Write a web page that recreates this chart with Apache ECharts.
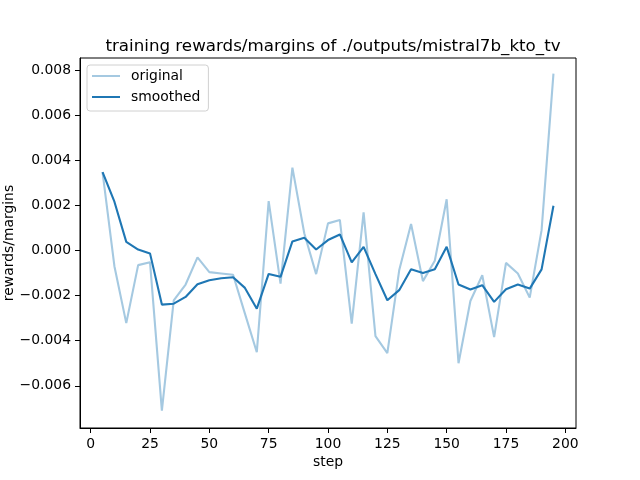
<!DOCTYPE html>
<html>
<head>
<meta charset="utf-8">
<script src="https://cdn.jsdelivr.net/npm/echarts@6/dist/echarts.min.js"></script>
<style>
  html, body { margin: 0; padding: 0; background: #fff; }
  #main { width: 640px; height: 480px; }
</style>
</head>
<body>
<div id="main"></div>
<script>
// steps logged every 5
var steps = [5, 10, 15, 20, 25, 30, 35, 40, 45, 50, 55, 60, 65, 70, 75, 80, 85, 90, 95, 100,
             105, 110, 115, 120, 125, 130, 135, 140, 145, 150, 155, 160, 165, 170, 175, 180, 185, 190, 195];

// values in units of 1e-3
var original = [3.47, -0.70, -3.22, -0.65, -0.52, -7.10, -2.21, -1.51, -0.31, -0.96,
                -1.02, -1.08, -2.80, -4.51, 2.19, -1.47, 3.67, 0.76, -1.05, 1.20,
                1.35, -3.24, 1.69, -3.80, -4.55, -0.88, 1.17, -1.36, -0.46, 2.27,
                -5.00, -2.24, -1.10, -3.84, -0.55, -1.02, -2.09, 0.90, 7.84];
var smoothed = [3.47, 2.16, 0.38, 0.04, -0.13, -2.40, -2.36, -2.06, -1.50, -1.32,
                -1.23, -1.19, -1.66, -2.58, -1.04, -1.17, 0.40, 0.56, 0.04, 0.46,
                0.71, -0.53, 0.16, -1.05, -2.21, -1.76, -0.83, -1.00, -0.83, 0.16,
                -1.51, -1.73, -1.54, -2.28, -1.72, -1.51, -1.69, -0.84, 1.98];

var xTicks = [0, 25, 50, 75, 100, 125, 150, 175, 200];
var yTicks = [-0.006, -0.004, -0.002, 0.000, 0.002, 0.004, 0.006, 0.008];

var FONT = 'DejaVu Sans';

function pairs(vals) {
    return steps.map(function (s, i) { return [s, vals[i] / 1000]; });
}

function fmtY(v) {
    var s = Math.abs(v).toFixed(3);
    return (v < -1e-9 ? '\u2212' : '') + s;
}

var myChart = echarts.init(document.getElementById('main'));

var option = {
    animation: false,
    backgroundColor: '#fff',
    textStyle: { fontFamily: FONT, color: '#000' },
    title: {
        text: 'training rewards/margins of ./outputs/mistral7b_kto_tv',
        left: 328,
        textAlign: 'center',
        top: 33,
        textStyle: { fontFamily: FONT, fontSize: 16.7, fontWeight: 'normal', color: '#000' }
    },
    grid: {
        left: 80, right: 64, top: 58, bottom: 52,
        containLabel: false,
        outerBoundsMode: 'none',
        show: true,
        borderColor: '#000',
        borderWidth: 1
    },
    legend: {
        orient: 'vertical',
        left: 87,
        top: 65,
        padding: [4, 8, 7, 5],
        itemGap: 7,
        itemWidth: 28,
        itemHeight: 2,
        icon: 'rect',
        borderColor: '#d0d0d0',
        borderWidth: 1,
        borderRadius: 3,
        backgroundColor: 'rgba(255,255,255,0.8)',
        textStyle: { fontFamily: FONT, fontSize: 13.9, color: '#000', lineHeight: 14, padding: [0, 0, 0, 6] },
        data: ['original', 'smoothed']
    },
    xAxis: {
        type: 'value',
        min: -4.5,
        max: 204.5,
        name: 'step',
        nameLocation: 'middle',
        nameGap: 27,
        nameMoveOverlap: false,
        nameTextStyle: { fontFamily: FONT, fontSize: 13.9, color: '#000' },
        axisLine: { show: true, onZero: false, lineStyle: { color: '#000', width: 1 } },
        axisTick: { show: true, inside: false, length: 5, lineStyle: { color: '#000' }, customValues: xTicks },
        axisLabel: { fontFamily: FONT, fontSize: 13.9, color: '#000', margin: 9, customValues: xTicks },
        splitLine: { show: false }
    },
    yAxis: {
        type: 'value',
        min: -0.00787,
        max: 0.00853,
        name: 'rewards/margins',
        nameLocation: 'middle',
        nameRotate: 90,
        nameGap: 64,
        nameMoveOverlap: false,
        nameTextStyle: { fontFamily: FONT, fontSize: 13.9, color: '#000' },
        axisLine: { show: true, onZero: false, lineStyle: { color: '#000', width: 1 } },
        axisTick: { show: true, inside: false, length: 5, lineStyle: { color: '#000' }, customValues: yTicks },
        axisLabel: {
            fontFamily: FONT, fontSize: 13.9, color: '#000', margin: 9,
            customValues: yTicks,
            formatter: fmtY
        },
        splitLine: { show: false }
    },
    series: [
        {
            name: 'original',
            type: 'line',
            data: pairs(original),
            symbol: 'none',
            color: '#a5c9e1',
            lineStyle: { width: 2.1, color: '#a5c9e1' }
        },
        {
            name: 'smoothed',
            type: 'line',
            data: pairs(smoothed),
            symbol: 'none',
            color: '#1f77b4',
            lineStyle: { width: 2.1, color: '#1f77b4' }
        }
    ]
};

myChart.setOption(option);
</script>
</body>
</html>
